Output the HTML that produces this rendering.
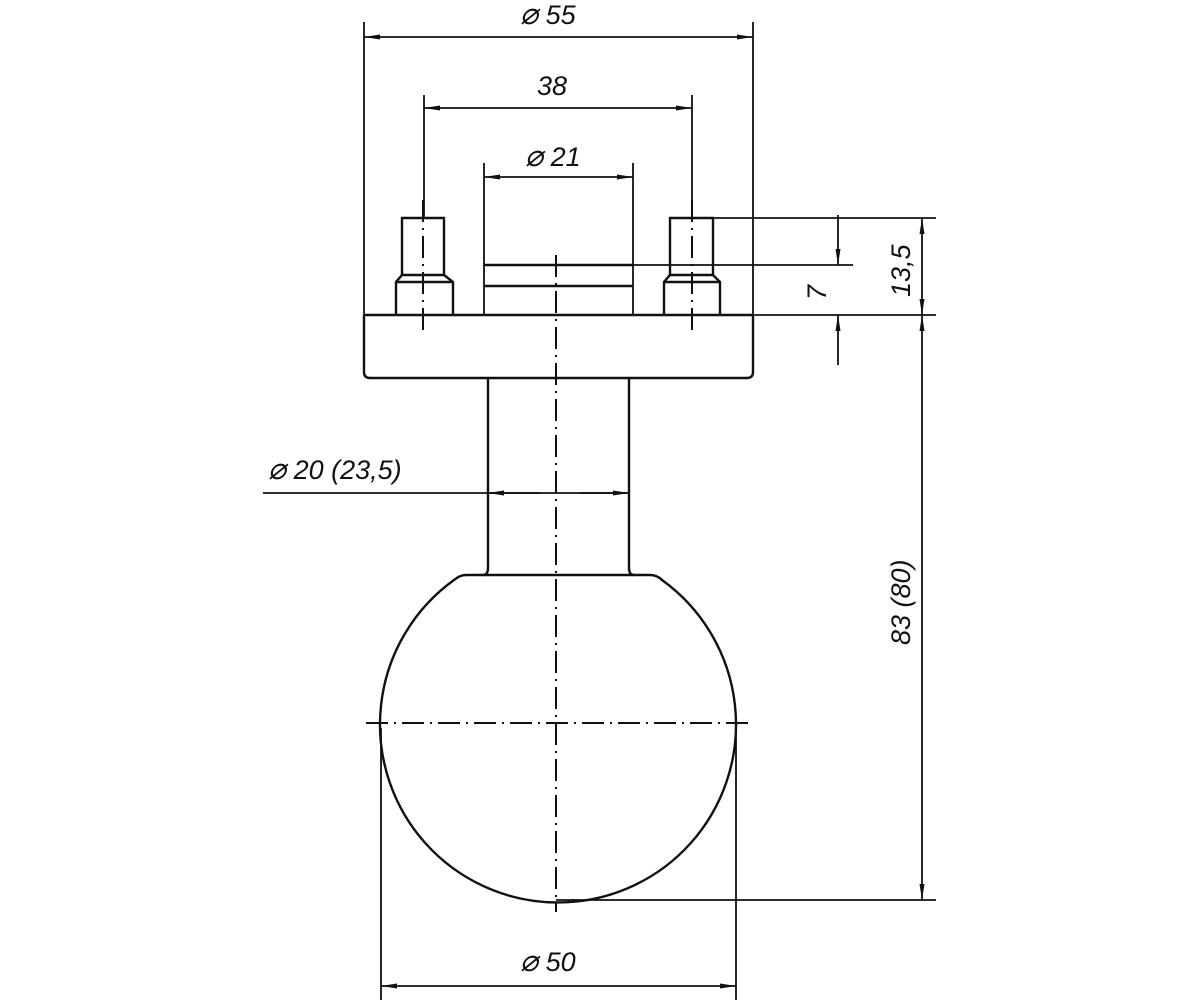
<!DOCTYPE html>
<html><head><meta charset="utf-8"><style>html,body{margin:0;padding:0;background:#fff}svg{display:block}</style></head>
<body>
<svg width="1200" height="1000" viewBox="0 0 1200 1000" xmlns="http://www.w3.org/2000/svg">
<defs>
<marker id="a" viewBox="0 0 16 6" refX="16" refY="3" markerWidth="16" markerHeight="6" markerUnits="userSpaceOnUse" orient="auto-start-reverse"><path d="M0 0.5 L16 3 L0 5.5 Z" fill="#111"/></marker>
</defs>
<g stroke="#111" stroke-width="2.4" fill="none">
<path d="M364 315 L364 372 Q364 378 370 378 L747 378 Q753 378 753 372 L753 315"/>
<line x1="364" y1="315" x2="753" y2="315"/>
<path d="M402 275 L402 218 L444 218 L444 275"/>
<path d="M396 315 L396 282 L402 275 L444 275 L453 282 L453 315"/>
<line x1="396" y1="282" x2="453" y2="282"/>
<path d="M670 275 L670 218 L713 218 L713 275"/>
<path d="M664 315 L664 282 L670 275 L713 275 L720 282 L720 315"/>
<line x1="664" y1="282" x2="720" y2="282"/>
<line x1="484" y1="265" x2="633" y2="265"/>
<line x1="484" y1="286" x2="633" y2="286"/>
<path d="M488 378 L488 568 Q488 575 483 575"/>
<path d="M629 378 L629 568 Q629 575 634 575"/>
<path d="M466 575 L650 575 Q657 575 662 580 A178 178 0 1 1 454 580 Q460 575 466 575 Z"/>
</g>
<g stroke="#111" stroke-width="2" stroke-dasharray="22,6,2,6">
<line x1="556" y1="255" x2="556" y2="912"/>
<line x1="366" y1="723" x2="752" y2="723"/>
<line x1="423" y1="200" x2="423" y2="335"/>
<line x1="692" y1="200" x2="692" y2="335"/>
</g>
<g stroke="#111" stroke-width="1.8" fill="none">
<line x1="364" y1="22" x2="364" y2="315"/>
<line x1="753" y1="22" x2="753" y2="315"/>
<line x1="364" y1="37" x2="753" y2="37" marker-start="url(#a)" marker-end="url(#a)"/>
<line x1="424" y1="95" x2="424" y2="218"/>
<line x1="692" y1="95" x2="692" y2="218"/>
<line x1="424" y1="108" x2="692" y2="108" marker-start="url(#a)" marker-end="url(#a)"/>
<line x1="484" y1="163" x2="484" y2="315"/>
<line x1="633" y1="163" x2="633" y2="315"/>
<line x1="484" y1="177" x2="633" y2="177" marker-start="url(#a)" marker-end="url(#a)"/>
<line x1="263" y1="493" x2="629" y2="493"/>
<line x1="540" y1="493" x2="488" y2="493" marker-end="url(#a)"/>
<line x1="580" y1="493" x2="629" y2="493" marker-end="url(#a)"/>
<line x1="381" y1="728" x2="381" y2="1000"/>
<line x1="736" y1="728" x2="736" y2="1000"/>
<line x1="381" y1="986" x2="736" y2="986" marker-start="url(#a)" marker-end="url(#a)"/>
<line x1="713" y1="218" x2="936" y2="218"/>
<line x1="633" y1="265" x2="853" y2="265"/>
<line x1="753" y1="315" x2="936" y2="315"/>
<line x1="556" y1="900" x2="936" y2="900"/>
<line x1="838" y1="215" x2="838" y2="265" marker-end="url(#a)"/>
<line x1="838" y1="365" x2="838" y2="315" marker-end="url(#a)"/>
<line x1="922" y1="218" x2="922" y2="315" marker-start="url(#a)" marker-end="url(#a)"/>
<line x1="922" y1="315" x2="922" y2="900" marker-start="url(#a)" marker-end="url(#a)"/>
</g>
<g font-family="'Liberation Sans', sans-serif" font-style="italic" font-size="27" fill="#111">
<text x="520" y="24"><tspan font-size="30">⌀</tspan> 55</text>
<text x="537" y="95">38</text>
<text x="525" y="166"><tspan font-size="30">⌀</tspan> 21</text>
<text x="268" y="479"><tspan font-size="30">⌀</tspan> 20 (23,5)</text>
<text x="520" y="971"><tspan font-size="30">⌀</tspan> 50</text>
<text transform="translate(826,300) rotate(-90)">7</text>
<text transform="translate(910,297) rotate(-90)">13,5</text>
<text transform="translate(910,645) rotate(-90)">83 (80)</text>
</g>
</svg>
</body></html>
